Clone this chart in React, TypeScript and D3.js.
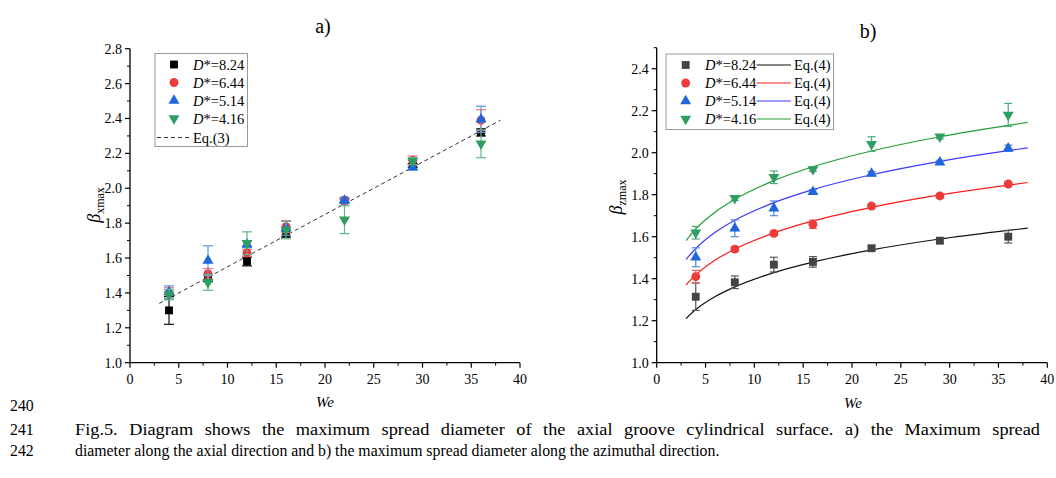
import React from "react";
import * as d3 from "d3";

// ---------- data ----------
const WE = [4, 8, 12, 16, 22, 29, 36];
const D_LABELS = ["8.24", "6.44", "5.14", "4.16"];

// panel a) beta_xmax
const AX_824 = [1.3, 1.485, 1.58, 1.74, 1.93, 2.13, 2.32];
const AX_824_ERR = [0.08, 0.02, 0.025, 0.02, 0.01, 0.01, 0.02];
const AX_644 = [1.4, 1.51, 1.63, 1.78, 1.93, 2.16, 2.39];
const AX_644_ERR = [0.03, 0.03, 0.02, 0.035, 0.01, 0.025, 0.06];
const AX_514 = [1.405, 1.585, 1.68, 1.77, 1.93, 2.12, 2.395];
const AX_514_ERR = [0.035, 0.085, 0.02, 0.04, 0.015, 0.015, 0.075];
const AX_416 = [1.39, 1.46, 1.685, 1.76, 1.82, 2.155, 2.255];
const AX_416_ERR = [0.03, 0.045, 0.065, 0.05, 0.08, 0.02, 0.08];
const EQ3_WE = [3, 38];
const EQ3_BETA = [1.34, 2.39];

// panel b) beta_zmax
const AZ_824 = [1.314, 1.383, 1.467, 1.48, 1.545, 1.581, 1.6];
const AZ_824_ERR = [0.065, 0.03, 0.035, 0.025, 0.01, 0.01, 0.03];
const AZ_644 = [1.41, 1.541, 1.616, 1.659, 1.746, 1.794, 1.851];
const AZ_644_ERR = [0.03, 0.01, 0.01, 0.02, 0.01, 0.01, 0.01];
const AZ_514 = [1.502, 1.64, 1.735, 1.814, 1.9, 1.954, 2.021];
const AZ_514_ERR = [0.045, 0.04, 0.035, 0.01, 0.01, 0.01, 0.015];
const AZ_416 = [1.619, 1.783, 1.883, 1.921, 2.041, 2.076, 2.18];
const AZ_416_ERR = [0.03, 0.01, 0.03, 0.01, 0.035, 0.01, 0.055];

// Eq.(4) curves
const EQ4_WE = [3, 4, 6, 8, 12, 16, 22, 29, 36, 38];
const EQ4_824 = [1.21, 1.253, 1.315, 1.361, 1.429, 1.479, 1.537, 1.589, 1.63, 1.641];
const EQ4_644 = [1.37, 1.418, 1.489, 1.541, 1.618, 1.675, 1.74, 1.799, 1.846, 1.858];
const EQ4_514 = [1.492, 1.544, 1.621, 1.678, 1.762, 1.824, 1.895, 1.959, 2.01, 2.023];
const EQ4_416 = [1.581, 1.637, 1.718, 1.778, 1.867, 1.933, 2.008, 2.076, 2.13, 2.144];

const X_TICKS = [0, 5, 10, 15, 20, 25, 30, 35, 40];

const FONT = "Liberation Serif, Times New Roman, Tinos, serif";

type Sym = "square" | "circle" | "triUp" | "triDown";
const SYMS: Sym[] = ["square", "circle", "triUp", "triDown"];

function symPath(s: Sym) {
  if (s === "square") return d3.symbol(d3.symbolSquare, 62)()!;
  if (s === "circle") return d3.symbol(d3.symbolCircle, 62)()!;
  return d3.symbol(d3.symbolTriangle, 52)()!;
}

function Marker({ s, x, y, fill }: { s: Sym; x: number; y: number; fill: string }) {
  const rot = s === "triDown" ? " rotate(180)" : "";
  return <path d={symPath(s)} transform={`translate(${x},${y})${rot}`} fill={fill} />;
}

type Series = { vals: number[]; err: number[]; color: string; errColor: string };

function Axes({ x, y, yMajor, yMinor, yFmt }: any) {
  const [x0, x1] = x.range();
  const [yb, yt] = y.range();
  const xMinor = d3.range(0, 40.01, 2.5).filter((v: number) => v % 5 !== 0);
  return (
    <g style={{ fontFamily: FONT }} fontSize={14} fill="#000">
      <line x1={x0} x2={x1} y1={yb} y2={yb} stroke="#000" strokeWidth={1.3} />
      <line x1={x0} x2={x0} y1={yb} y2={yt} stroke="#000" strokeWidth={1.3} />
      {X_TICKS.map((t) => (
        <g key={"x" + t}>
          <line x1={x(t)} x2={x(t)} y1={yb} y2={yb + 5} stroke="#000" strokeWidth={1.2} />
          <text x={x(t)} y={yb + 21} textAnchor="middle">{t}</text>
        </g>
      ))}
      {xMinor.map((t: number) => (
        <line key={"xm" + t} x1={x(t)} x2={x(t)} y1={yb} y2={yb + 3} stroke="#000" strokeWidth={1} />
      ))}
      {yMajor.map((t: number) => (
        <g key={"y" + t}>
          <line x1={x0 - 5} x2={x0} y1={y(t)} y2={y(t)} stroke="#000" strokeWidth={1.2} />
          <text x={x0 - 8} y={y(t) + 5} textAnchor="end">{yFmt(t)}</text>
        </g>
      ))}
      {yMinor.map((t: number) => (
        <line key={"ym" + t} x1={x0 - 3} x2={x0} y1={y(t)} y2={y(t)} stroke="#000" strokeWidth={1} />
      ))}
    </g>
  );
}

function Points({ x, y, series, cap }: { x: any; y: any; series: Series[]; cap: number }) {
  return (
    <g>
      {series.map((s, i) => (
        <g key={i}>
          {WE.map((w, j) => {
            const px = x(w);
            const lo = y(s.vals[j] - s.err[j]);
            const hi = y(s.vals[j] + s.err[j]);
            return (
              <g key={j} stroke={s.errColor} strokeWidth={1.2}>
                <line x1={px} x2={px} y1={lo} y2={hi} />
                <line x1={px - cap / 2} x2={px + cap / 2} y1={lo} y2={lo} />
                <line x1={px - cap / 2} x2={px + cap / 2} y1={hi} y2={hi} />
              </g>
            );
          })}
          {WE.map((w, j) => (
            <Marker key={"m" + j} s={SYMS[i]} x={x(w)} y={y(s.vals[j])} fill={s.color} />
          ))}
        </g>
      ))}
    </g>
  );
}

function YLabel({ x, y, sub }: { x: number; y: number; sub: string }) {
  return (
    <text transform={`translate(${x},${y}) rotate(-90)`} style={{ fontFamily: FONT }} textAnchor="middle" fill="#000">
      <tspan fontStyle="italic" fontSize={18}>β</tspan>
      <tspan fontSize={12} dy={4}>{sub}</tspan>
    </text>
  );
}

export default function App() {
  const RED = "#ee3a3a";
  const BLUE = "#1f66dc";
  const GREEN = "#2f9e62";

  // ---- panel a ----
  const xa = d3.scaleLinear().domain([0, 40]).range([130, 520]);
  const ya = d3.scaleLinear().domain([1.0, 2.8]).range([362.7, 48.7]);
  const seriesA: Series[] = [
    { vals: AX_824, err: AX_824_ERR, color: "#000", errColor: "#111" },
    { vals: AX_644, err: AX_644_ERR, color: RED, errColor: "#f07a7a" },
    { vals: AX_514, err: AX_514_ERR, color: BLUE, errColor: "#5f92e6" },
    { vals: AX_416, err: AX_416_ERR, color: GREEN, errColor: "#5fb68c" },
  ];
  const eq3 = d3.line<number>().x((_, i) => xa(EQ3_WE[i])).y((v) => ya(v))(EQ3_BETA)!;

  // ---- panel b ----
  const xb = d3.scaleLinear().domain([0, 40]).range([656.7, 1047.3]);
  const yb = d3.scaleLinear().domain([1.0, 2.5]).range([362.7, 47.7]);
  const seriesB: Series[] = [
    { vals: AZ_824, err: AZ_824_ERR, color: "#444", errColor: "#555" },
    { vals: AZ_644, err: AZ_644_ERR, color: RED, errColor: "#e86060" },
    { vals: AZ_514, err: AZ_514_ERR, color: BLUE, errColor: "#4f86e0" },
    { vals: AZ_416, err: AZ_416_ERR, color: GREEN, errColor: "#4faa7a" },
  ];
  const curveColors = ["#111", "#ff1a1a", "#3a3aff", "#22a033"];
  const curves = [EQ4_824, EQ4_644, EQ4_514, EQ4_416];
  const lineB = (vals: number[]) =>
    d3
      .line<number>()
      .x((_, i) => xb(EQ4_WE[i]))
      .y((v) => yb(v))
      .curve(d3.curveMonotoneX)(vals)!;

  const yMajA = d3.range(1.0, 2.81, 0.2);
  const yMinA = d3.range(1.1, 2.8, 0.2);
  const yMajB = d3.range(1.0, 2.41, 0.2);
  const yMinB = d3.range(1.1, 2.51, 0.2);
  const fmt = d3.format(".1f");

  return (
    <svg width={1056} height={478} style={{ position: "absolute", left: 0, top: 0, background: "#fff", fontFamily: FONT }}>
      <rect width={1056} height={478} fill="#fff" />
      {/* ---------- panel a ---------- */}
      <text x={323} y={33} fontSize={20} textAnchor="middle">a)</text>
      <Axes x={xa} y={ya} yMajor={yMajA} yMinor={yMinA} yFmt={fmt} />
      <path d={eq3} stroke="#333" strokeWidth={1} strokeDasharray="4,3" fill="none" />
      <Points x={xa} y={ya} series={seriesA} cap={10} />
      <text x={325} y={407} fontSize={15} fontStyle="italic" textAnchor="middle">We</text>
      <YLabel x={100} y={205} sub="xmax" />
      {/* legend a */}
      <g fontSize={14.5}>
        <rect x={155} y={53.5} width={92.5} height={93} fill="#fff" stroke="#999" strokeWidth={1} />
        {D_LABELS.map((d, i) => (
          <g key={i}>
            <Marker s={SYMS[i]} x={174} y={64.5 + i * 18} fill={seriesA[i].color} />
            <text x={193} y={69.5 + i * 18}>
              <tspan fontStyle="italic">D</tspan>*={d}
            </text>
          </g>
        ))}
        <line x1={157} x2={190} y1={137.5} y2={137.5} stroke="#333" strokeDasharray="4,3" />
        <text x={193} y={142.5}>Eq.(3)</text>
      </g>

      {/* ---------- panel b ---------- */}
      <text x={868} y={38} fontSize={20} textAnchor="middle">b)</text>
      <Axes x={xb} y={yb} yMajor={yMajB} yMinor={yMinB} yFmt={fmt} />
      {curves.map((c, i) => (
        <path key={i} d={lineB(c)} stroke={curveColors[i]} strokeWidth={1.2} fill="none" />
      ))}
      <Points x={xb} y={yb} series={seriesB} cap={8} />
      <text x={853} y={408} fontSize={15} fontStyle="italic" textAnchor="middle">We</text>
      <YLabel x={622} y={197} sub="zmax" />
      {/* legend b */}
      <g fontSize={14.5}>
        <rect x={666} y={54} width={167.5} height={75.5} fill="#fff" stroke="#999" strokeWidth={1} />
        {D_LABELS.map((d, i) => (
          <g key={i}>
            <Marker s={SYMS[i]} x={685.7} y={65 + i * 18} fill={seriesB[i].color} />
            <text x={705} y={70 + i * 18}>
              <tspan fontStyle="italic">D</tspan>*={d}
            </text>
            <line x1={756.5} x2={791} y1={65 + i * 18} y2={65 + i * 18} stroke={curveColors[i]} strokeWidth={1.2} />
            <text x={794} y={70 + i * 18}>Eq.(4)</text>
          </g>
        ))}
      </g>

      {/* ---------- caption ---------- */}
      <g fontSize={15.8} fill="#000">
        <text x={10} y={411}>240</text>
        <text x={10} y={435}>241</text>
        <text x={75} y={435} style={{ wordSpacing: "6px" }} textLength={965} lengthAdjust="spacingAndGlyphs">
          Fig.5. Diagram shows the maximum spread diameter of the axial groove cylindrical surface. a) the Maximum spread
        </text>
        <text x={10} y={456}>242</text>
        <text x={75} y={456}>
          diameter along the axial direction and b) the maximum spread diameter along the azimuthal direction.
        </text>
      </g>
    </svg>
  );
}
